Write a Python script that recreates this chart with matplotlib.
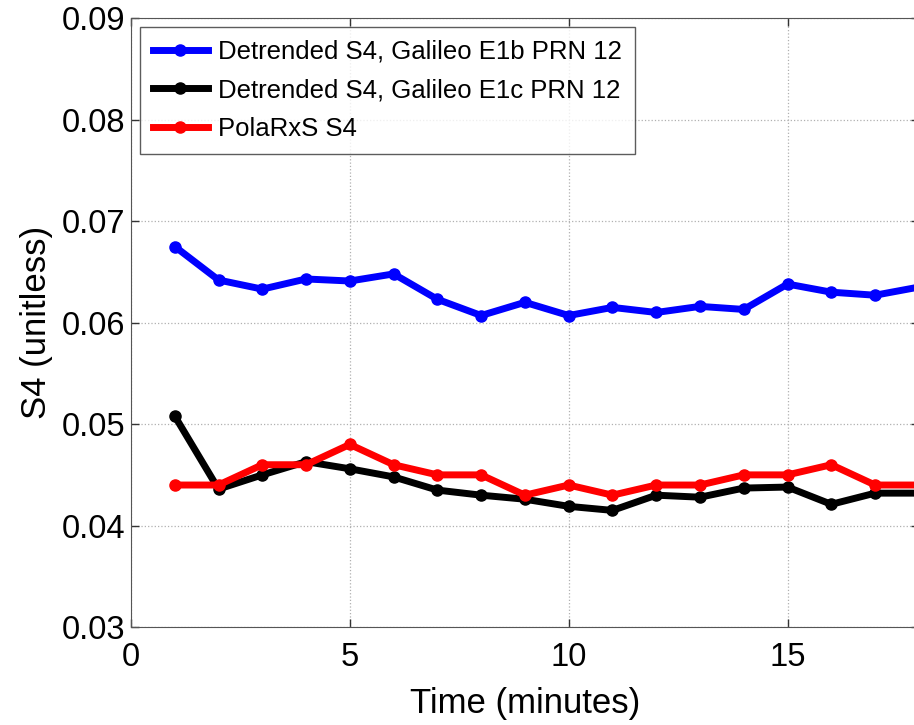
import matplotlib
matplotlib.use("Agg")
import matplotlib.pyplot as plt

plt.rcParams['font.family'] = ['Liberation Sans', 'DejaVu Sans']

# minutes
minutes = list(range(1, 19))

# S4 values
s4_e1b = [0.0675, 0.0642, 0.0633, 0.0643, 0.0641, 0.0648, 0.0623, 0.0607, 0.0620,
          0.0607, 0.0615, 0.0610, 0.0616, 0.0613, 0.0638, 0.0630, 0.0627, 0.0635]
s4_e1c = [0.0508, 0.0436, 0.0450, 0.0463, 0.0456, 0.0448, 0.0435, 0.0430, 0.0426,
          0.0419, 0.0415, 0.0430, 0.0428, 0.0437, 0.0438, 0.0421, 0.0432, 0.0432]
s4_polarxs = [0.044, 0.044, 0.046, 0.046, 0.048, 0.046, 0.045, 0.045, 0.043,
              0.044, 0.043, 0.044, 0.044, 0.045, 0.045, 0.046, 0.044, 0.044]

labels = ['Detrended S4, Galileo E1b PRN 12',
          'Detrended S4, Galileo E1c PRN 12',
          'PolaRxS S4']
colors = ['#0000ff', '#000000', '#ff0000']

fig = plt.figure(figsize=(9.14, 7.25), dpi=100)
ax = fig.add_axes([0.1433, 0.135, 0.862, 0.84])

for vals, lab, col in zip([s4_e1b, s4_e1c, s4_polarxs], labels, colors):
    ax.plot(minutes, vals, '-o', color=col, lw=5, ms=8, label=lab)

ax.set_xlim(0, 18)
ax.set_ylim(0.03, 0.09)
ax.set_xticks([0, 5, 10, 15])
ax.set_yticks([0.03, 0.04, 0.05, 0.06, 0.07, 0.08, 0.09])
ax.set_yticklabels(['0.03', '0.04', '0.05', '0.06', '0.07', '0.08', '0.09'])
ax.tick_params(direction='in', top=True, right=True, length=6, width=1,
               labelsize=23.5, color='#333333')
ax.tick_params(axis='x', pad=11)
ax.tick_params(axis='y', pad=4)
ax.grid(True, linestyle=':', color='#b0b0b0', lw=0.9)
for s in ax.spines.values():
    s.set_color('#555555')

ax.set_xlabel('Time (minutes)', fontsize=25, labelpad=10)
ax.set_ylabel('S4 (unitless)', fontsize=25, labelpad=6)

leg = ax.legend(loc='upper left', fontsize=18.5, frameon=True, fancybox=False,
                edgecolor='#333333', handlelength=2.15, borderaxespad=0.35,
                labelspacing=0.56, handletextpad=0.4, borderpad=0.5)
leg.get_frame().set_linewidth(1.0)

fig.savefig('out.png', dpi=100)
